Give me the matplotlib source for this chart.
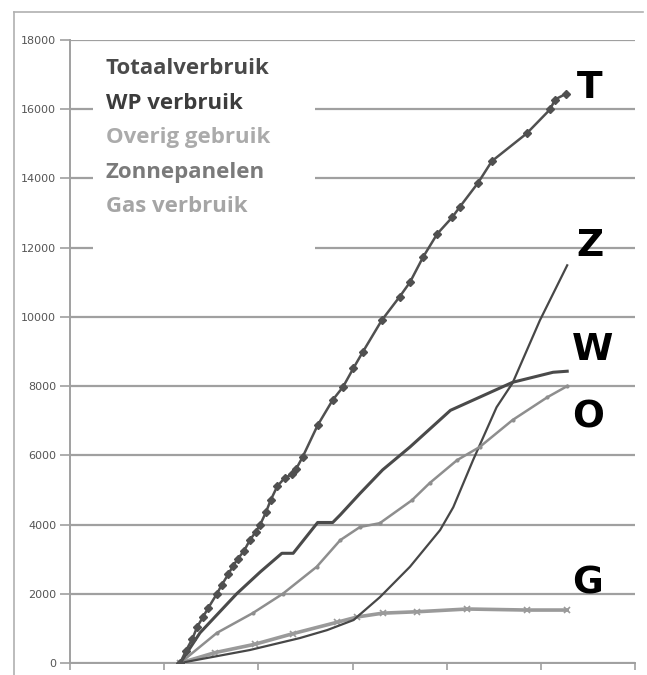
import matplotlib
matplotlib.use("Agg")
import matplotlib.pyplot as plt
from matplotlib.lines import Line2D
from matplotlib.patches import Rectangle

# ---- data ----
t_x = [1.17, 1.23, 1.30, 1.35, 1.41, 1.47, 1.56, 1.61, 1.68, 1.73, 1.78, 1.85, 1.91, 1.97,
       2.02, 2.08, 2.13, 2.20, 2.28, 2.36, 2.40, 2.47, 2.63, 2.79, 2.90, 3.01, 3.11, 3.31,
       3.50, 3.61, 3.75, 3.90, 4.06, 4.14, 4.33, 4.48, 4.85, 5.10, 5.15, 5.27]
t_y = [0, 350, 700, 1040, 1320, 1600, 2000, 2250, 2560, 2800, 3000, 3250, 3550, 3780,
       4000, 4350, 4700, 5100, 5350, 5450, 5600, 5950, 6870, 7600, 7980, 8520, 8990, 9900,
       10580, 11000, 11730, 12400, 12880, 13180, 13860, 14500, 15300, 16000, 16280, 16450]

w_x = [1.17, 1.38, 1.77, 2.02, 2.25, 2.37, 2.63, 2.79, 2.87, 3.08, 3.32, 3.61, 4.04, 4.35, 4.70, 5.13, 5.28]
w_y = [0, 870, 2000, 2630, 3170, 3170, 4060, 4060, 4280, 4900, 5580, 6240, 7300, 7680, 8110, 8400, 8430]

o_x = [1.17, 1.56, 1.94, 2.26, 2.62, 2.87, 3.08, 3.29, 3.63, 3.82, 4.11, 4.35, 4.70, 5.07, 5.28]
o_y = [0, 870, 1440, 2000, 2780, 3550, 3930, 4040, 4700, 5200, 5860, 6240, 7020, 7680, 8000]

z_x = [1.17, 1.91, 2.44, 2.73, 3.01, 3.29, 3.61, 3.93, 4.07, 4.28, 4.53, 4.70, 4.99, 5.28]
z_y = [0, 375, 720, 950, 1240, 1900, 2780, 3840, 4500, 5860, 7390, 8090, 9900, 11490]

g_x = [1.17, 1.54, 1.96, 2.37, 2.84, 3.05, 3.32, 3.68, 4.22, 4.85, 5.28]
g_y = [0, 300, 540, 850, 1180, 1330, 1440, 1480, 1560, 1530, 1530]

legend_labels = ["Totaalverbruik", "WP verbruik", "Overig gebruik", "Zonnepanelen", "Gas verbruik"]
legend_colors = ["#4a4a4a", "#3c3c3c", "#ababab", "#7a7a7a", "#a5a5a5"]
end_letters = ["T", "Z", "W", "O", "G"]
end_letter_y = [16600, 12050, 9050, 7100, 2300]

y_ticks = list(range(0, 18001, 2000))
x_ticks = list(range(0, 7))

# ---- figure ----
fig = plt.figure(figsize=(6.47, 6.75), dpi=100)
ax = fig.add_axes([70/647, 12/675, 565/647, 623/675])

grid_c = "#a0a0a0"
ax.set_xlim(0, 6)
ax.set_ylim(0, 18000)
ax.set_yticks(y_ticks)
ax.set_xticks(x_ticks)
ax.yaxis.grid(True, color=grid_c, linewidth=1.6)
ax.set_axisbelow(True)
for s in ["top", "right"]:
    ax.spines[s].set_visible(False)
ax.spines["left"].set_color(grid_c)
ax.spines["bottom"].set_color(grid_c)
ax.spines["left"].set_linewidth(1.4)
ax.spines["bottom"].set_linewidth(1.4)
ax.tick_params(axis="y", length=7, color=grid_c, width=1.2, labelsize=8, labelcolor="#555555", pad=3)
ax.tick_params(axis="x", length=5, color=grid_c, width=1.2, labelbottom=False)

ax.plot(g_x, g_y, color="#9a9a9a", lw=2.6, marker="x", ms=5, mew=1.2, zorder=2)
ax.plot(z_x, z_y, color="#474747", lw=1.6, zorder=3)
ax.plot(o_x, o_y, color="#8e8e8e", lw=1.8, marker="o", ms=2, zorder=3)
ax.plot(w_x, w_y, color="#4a4a4a", lw=2.2, zorder=4)
ax.plot(t_x, t_y, color="#505050", lw=1.8, marker="D", ms=4, zorder=5)

# legend box (white background interrupting gridlines)
ax.add_patch(Rectangle((93/647, 1 - 252/675), (315 - 93)/647, (252 - 45)/675,
                       transform=fig.transFigure, facecolor="white", edgecolor="none", zorder=1.5))
for i, (lab, c) in enumerate(zip(legend_labels, legend_colors)):
    fig.text(106/647, 1 - (69 + i*34.5)/675, lab, color=c, fontsize=16,
             fontweight="bold", family="Open Sans", va="center", ha="left")

letter_x = [5.38, 5.38, 5.33, 5.33, 5.33]
for L, lx, ly in zip(end_letters, letter_x, end_letter_y):
    ax.text(lx, ly, L, fontsize=27, fontweight="bold", color="black", va="center", ha="left",
            family="DejaVu Sans")

# outer frame
fig.add_artist(Line2D([14/647, 14/647], [0, 1 - 12/675], transform=fig.transFigure, color="#b0b0b0", lw=1.2))
fig.add_artist(Line2D([14/647, 643/647], [1 - 12/675, 1 - 12/675], transform=fig.transFigure, color="#b0b0b0", lw=1.2))

fig.savefig("out.png", dpi=100)
